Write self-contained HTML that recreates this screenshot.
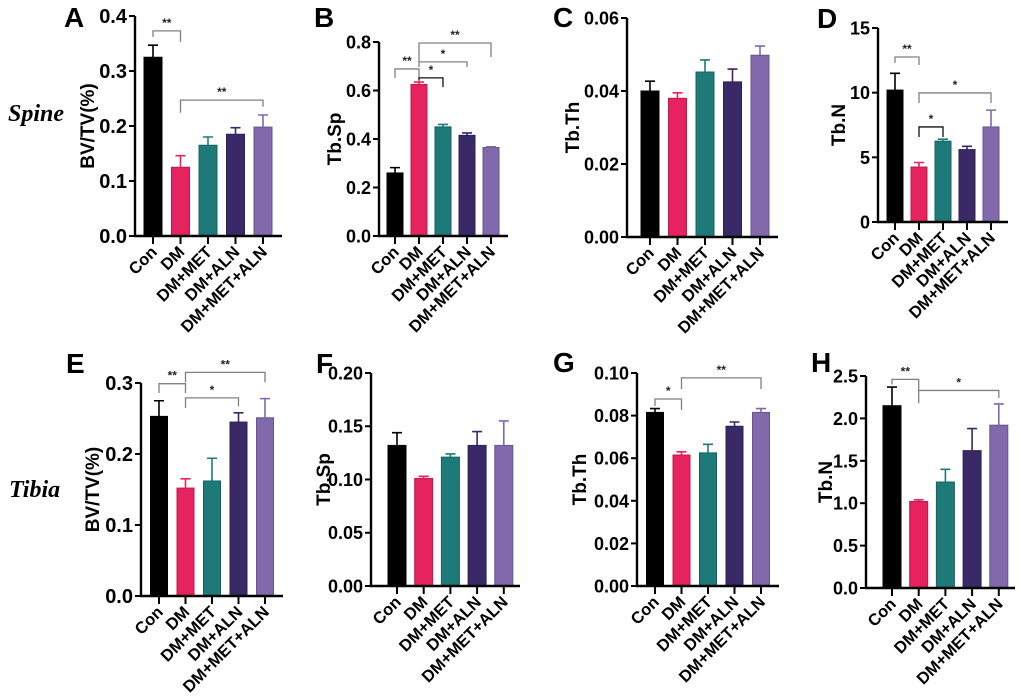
<!DOCTYPE html>
<html><head><meta charset="utf-8"><style>
html,body{margin:0;padding:0;background:#fff;}
svg{display:block;font-family:"Liberation Sans",Arial,sans-serif;}
</style></head><body>
<svg id="fig" width="1020" height="700" viewBox="0 0 1020 700" xmlns="http://www.w3.org/2000/svg">
<text x="8" y="121" font-family="Liberation Serif,serif" font-style="italic" font-weight="bold" font-size="24">Spine</text>
<text x="9" y="497" font-family="Liberation Serif,serif" font-style="italic" font-weight="bold" font-size="24">Tibia</text>
</svg>
<script>
const categories = ["Con","DM","DM+MET","DM+ALN","DM+MET+ALN"];
const colors = ["#000000","#e6235f","#1d7a78","#3a2967","#8169ac"];
const meanA = [0.325,0.125,0.165,0.185,0.198];
const errA  = [0.022,0.021,0.015,0.012,0.022];
const meanB = [0.26,0.625,0.45,0.415,0.365];
const errB  = [0.022,0.010,0.010,0.010,0.003];
const meanC = [0.0400,0.0380,0.0452,0.0425,0.0498];
const errC  = [0.0027,0.0015,0.0033,0.0035,0.0025];
const meanD = [10.2,4.25,6.25,5.6,7.35];
const errD  = [1.3,0.35,0.15,0.25,1.3];
const meanE = [0.253,0.152,0.162,0.245,0.251];
const errE  = [0.022,0.013,0.032,0.013,0.027];
const meanF = [0.132,0.101,0.121,0.132,0.132];
const errF  = [0.012,0.002,0.003,0.013,0.023];
const meanG = [0.0815,0.0615,0.0625,0.0750,0.0815];
const errG  = [0.0018,0.0015,0.0040,0.0020,0.0018];
const meanH = [2.15,1.02,1.25,1.62,1.92];
const errH  = [0.22,0.02,0.15,0.26,0.25];
const ticksA = [0,0.1,0.2,0.3,0.4];
const ticksB = [0,0.2,0.4,0.6,0.8];
const ticksC = [0,0.02,0.04,0.06];
const ticksD = [0,5,10,15];
const ticksE = [0,0.1,0.2,0.3];
const ticksF = [0,0.05,0.10,0.15,0.20];
const ticksG = [0,0.02,0.04,0.06,0.08,0.10];
const ticksH = [0,0.5,1.0,1.5,2.0,2.5];
// brackets: [from, to, level, leftEnd, rightEnd, label, black]
const sigA = [[0,1,0.373,0.362,0.353,"**",0],[1,4,0.247,0.224,0.235,"**",0]];
const sigB = [[0,1,0.689,0.652,0.652,"**",0],[1,2,0.652,0.640,0.614,"*",1],[1,3,0.718,0.697,0.697,"*",0],[1,4,0.796,0.720,0.738,"**",0]];
const sigC = [];
const sigD = [[0,1,12.76,12.3,12.14,"**",0],[1,4,9.98,9.2,9.2,"*",0],[1,2,7.35,6.57,6.57,"*",1]];
const sigE = [[0,1,0.299,0.286,0.286,"**",0],[1,3,0.279,0.265,0.267,"*",0],[1,4,0.315,0.301,0.301,"**",0]];
const sigF = [];
const sigG = [[0,1,0.0878,0.0845,0.0826,"*",0],[1,4,0.0977,0.0925,0.0925,"**",0]];
const sigH = [[0,1,2.46,2.40,2.33,"**",0],[1,4,2.33,2.18,2.24,"*",0]];

const layout = [
 {id:"A",mean:meanA,err:errA,ticks:ticksA,sig:sigA,dec:1,ax:135,y0:236,ytop:16,ymax:0.4,xEnd:282,c0:153,step:27.5,bw:18,title:"BV/TV(%)",tx:94,lx:64,ly:27,fs:20},
 {id:"B",mean:meanB,err:errB,ticks:ticksB,sig:sigB,dec:1,ax:379,y0:236,ytop:42,ymax:0.8,xEnd:508,c0:395,step:24,bw:16,title:"Tb.Sp",tx:341,lx:314,ly:27,fs:18},
 {id:"C",mean:meanC,err:errC,ticks:ticksC,sig:sigC,dec:2,ax:627,y0:237,ytop:18,ymax:0.06,xEnd:778,c0:650,step:27.5,bw:18,title:"Tb.Th",tx:579,lx:553,ly:27,fs:18},
 {id:"D",mean:meanD,err:errD,ticks:ticksD,sig:sigD,dec:0,ax:878,y0:222,ytop:28,ymax:15,xEnd:1008,c0:895,step:24,bw:16,title:"Tb.N",tx:845,lx:817,ly:28,fs:18},
 {id:"E",mean:meanE,err:errE,ticks:ticksE,sig:sigE,dec:1,ax:141,y0:596,ytop:383,ymax:0.3,xEnd:283,c0:159,step:26.5,bw:17,title:"BV/TV(%)",tx:99,lx:66,ly:373,fs:20},
 {id:"F",mean:meanF,err:errF,ticks:ticksF,sig:sigF,dec:2,ax:371,y0:586,ytop:373,ymax:0.2,xEnd:520,c0:397,step:26.7,bw:18,title:"Tb.Sp",tx:330,lx:316,ly:373,fs:18},
 {id:"G",mean:meanG,err:errG,ticks:ticksG,sig:sigG,dec:2,ax:637,y0:586,ytop:373,ymax:0.1,xEnd:779,c0:655,step:26.5,bw:17,title:"Tb.Th",tx:586,lx:553,ly:372,fs:18},
 {id:"H",mean:meanH,err:errH,ticks:ticksH,sig:sigH,dec:1,ax:866,y0:588,ytop:376,ymax:2.5,xEnd:1015,c0:892,step:26.7,bw:18,title:"Tb.N",tx:832,lx:811,ly:372,fs:18}
];
const NS="http://www.w3.org/2000/svg";
const svg=document.getElementById("fig");
function mk(tag,attrs,parent){const e=document.createElementNS(NS,tag);for(const k in attrs)e.setAttribute(k,attrs[k]);parent.appendChild(e);return e;}
function darken(h){const n=parseInt(h.slice(1),16);const r=Math.round(((n>>16)&255)*0.8),g=Math.round(((n>>8)&255)*0.8),b=Math.round((n&255)*0.8);return "rgb("+r+","+g+","+b+")";}
layout.forEach(p=>{
  const g=mk("g",{},svg);
  
  
  const yS=v=>p.y0-(v/p.ymax)*(p.y0-p.ytop);
  const xS=i=>p.c0+i*p.step;
  const L=mk("text",{x:p.lx,y:p.ly,"font-size":28,"font-weight":"bold"},g);L.textContent=p.id;
  
  
  p.mean.forEach((m,i)=>{
    const top=yS(m);
    const r=mk("rect",{x:xS(i)-p.bw/2,y:top,width:p.bw,height:p.y0-top,fill:colors[i],stroke:darken(colors[i]),"stroke-width":1},g);
    
    
    const et=yS(m+p.err[i]);
    const e=mk("path",{d:`M${xS(i)} ${top} V${et} M${xS(i)-5} ${et} H${xS(i)+5}`,stroke:colors[i],"stroke-width":1.6,fill:"none"},g);
    
    
  });
  const ya=mk("line",{x1:p.ax,y1:p.ytop,x2:p.ax,y2:p.y0+1,stroke:"#000","stroke-width":2.4},g);
  
  
  const xa=mk("line",{x1:p.ax-1,y1:p.y0,x2:p.xEnd,y2:p.y0,stroke:"#000","stroke-width":2.4},g);
  
  
  p.ticks.forEach(t=>{
    const y=yS(t);
    mk("line",{x1:p.ax-6,y1:y,x2:p.ax,y2:y,stroke:"#000","stroke-width":2},g);
    const tl=mk("text",{x:p.ax-8,y:y+p.fs*0.36,"font-size":p.fs,"font-weight":"bold","text-anchor":"end"},g);
    tl.textContent=t.toFixed(p.dec);
    
    
  });
  categories.forEach((c,i)=>{
    mk("line",{x1:xS(i),y1:p.y0,x2:xS(i),y2:p.y0+8,stroke:"#000","stroke-width":2},g);
    const cx=xS(i)+5, cy=p.y0+17;
    const tl=mk("text",{x:cx,y:cy,"font-size":16.5,"font-weight":"bold","text-anchor":"end",transform:`rotate(-45 ${cx} ${cy})`},g);
    tl.textContent=c;
    
    
  });
  const ym=(p.y0+p.ytop)/2;
  const tt=mk("text",{x:p.tx,y:ym,"font-size":19,"font-weight":"bold","text-anchor":"middle",transform:`rotate(-90 ${p.tx} ${ym})`},g);
  tt.textContent=p.title;
  
  
  p.sig.forEach(s=>{
    const x1=xS(s[0]),x2=xS(s[1]),yl=yS(s[2]);
    const col=s[6]?"#111":"#808080";
    const b=mk("path",{d:`M${x1} ${yS(s[3])} V${yl} H${x2} V${yS(s[4])}`,stroke:col,"stroke-width":1.3,fill:"none"},g);
    
    
    const st=mk("text",{x:(x1+x2)/2,y:yl-4,"font-size":12,"font-weight":"bold","text-anchor":"middle",fill:"#222"},g);
    st.textContent=s[5];
    
    
  });
});
</script>
</body></html>
